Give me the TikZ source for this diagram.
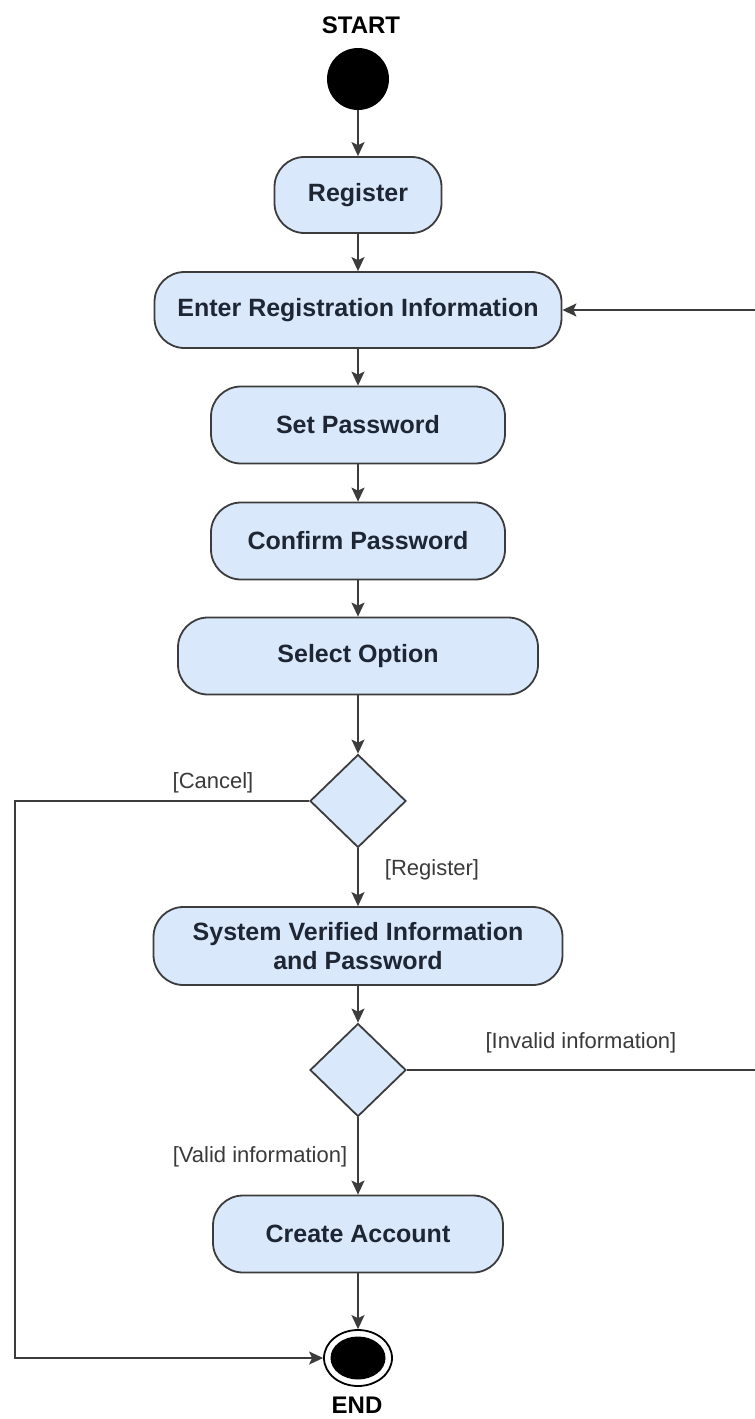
\documentclass[tikz,border=0pt]{standalone}
\usepackage{fontspec}
\setmainfont{Liberation Sans}
\usetikzlibrary{shapes.geometric,arrows.meta}
\definecolor{boxfill}{HTML}{DAE8FC}
\definecolor{boxline}{HTML}{3C3C3C}
\definecolor{boxtext}{HTML}{1E2633}
\definecolor{lbltext}{HTML}{3A3A3A}
\tikzset{
  act/.style={rectangle, rounded corners=30pt, draw=boxline, fill=boxfill, line width=1.8pt,
    text=boxtext, font=\fontsize{25}{29}\selectfont\bfseries, align=center, inner sep=0pt},
  dec/.style={diamond, draw=boxline, fill=boxfill, line width=1.8pt, inner sep=0pt,
    minimum width=96pt, minimum height=93pt},
  flow/.style={draw=boxline, line width=1.7pt, -{Stealth[length=14pt,width=13pt,inset=3pt]}},
  guard/.style={text=lbltext, font=\fontsize{22}{26}\selectfont, inner sep=0pt},
  title/.style={text=black, font=\fontsize{24}{28}\selectfont\bfseries, inner sep=0pt}
}
\begin{document}
\begin{tikzpicture}[x=1pt,y=-1pt]
\useasboundingbox (0,0) rectangle (755,1419);
\node[title] (starttxt) at (361,25) {START};
\node[circle, fill=black, minimum size=62pt, inner sep=0pt] (start) at (358,79) {};
\node[act, minimum width=167pt, minimum height=76pt] (reg) at (358,195) {Register};
\node[act, minimum width=407pt, minimum height=76pt] (enter) at (358,310) {Enter Registration Information};
\node[act, minimum width=294pt, minimum height=77pt] (setpw) at (358,425) {Set Password};
\node[act, minimum width=294pt, minimum height=77pt] (conf) at (358,541) {Confirm Password};
\node[act, minimum width=360pt, minimum height=77pt] (sel) at (358,656) {Select Option};
\node[dec] (d1) at (358,801) {};
\node[guard] (lcancel) at (213,783) {[Cancel]};
\node[guard] (lreg) at (432,870) {[Register]};
\node[act, minimum width=409pt, minimum height=78pt] (sysv) at (358,946) {System Verified Information\\and Password};
\node[dec] (d2) at (358,1070) {};
\node[guard] (linv) at (581,1043) {[Invalid information]};
\node[guard] (lval) at (260,1157) {[Valid information]};
\node[act, minimum width=290pt, minimum height=77pt] (create) at (358,1234) {Create Account};
\node[ellipse, draw=black, line width=1.8pt, fill=white, minimum width=68pt, minimum height=56pt, inner sep=0pt] (end) at (358,1358) {};
\node[ellipse, fill=black, minimum width=55pt, minimum height=43pt, inner sep=0pt] (endin) at (358,1358) {};
\node[title] (endtxt) at (357,1405) {END};
\coordinate (cl) at (15,801);
\coordinate (ri) at (760,310);
\draw[flow] (start) -- (reg);
\draw[flow] (reg) -- (enter);
\draw[flow] (enter) -- (setpw);
\draw[flow] (setpw) -- (conf);
\draw[flow] (conf) -- (sel);
\draw[flow] (sel) -- (d1);
\draw[flow] (d1) -- (sysv);
\draw[flow] (sysv) -- (d2);
\draw[flow] (d2) -- (create);
\draw[flow] (create) -- (end);
\draw[flow] (d1.west) -- (cl) |- (end.west);
\draw[flow] (d2.east) -| (ri) -- (enter.east);
\end{tikzpicture}
\end{document}
